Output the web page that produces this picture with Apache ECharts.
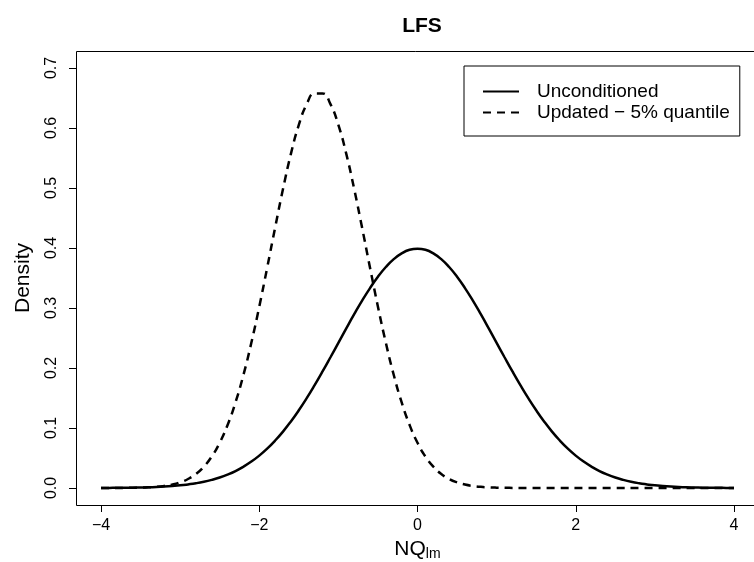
<!DOCTYPE html>
<html>
<head>
<meta charset="utf-8">
<script src="https://cdn.jsdelivr.net/npm/echarts@6/dist/echarts.min.js"></script>
<style>
  html, body { margin: 0; padding: 0; background: #fff; }
  #chart { width: 754px; height: 562px; }
</style>
</head>
<body>
<div id="chart"></div>
<script>
// grid of x values, -4 .. 4 by 0.1
const xs = [
  -4.0, -3.9, -3.8, -3.7, -3.6, -3.5, -3.4, -3.3, -3.2, -3.1,
  -3.0, -2.9, -2.8, -2.7, -2.6, -2.5, -2.4, -2.3, -2.2, -2.1,
  -2.0, -1.9, -1.8, -1.7, -1.6, -1.5, -1.4, -1.3, -1.2, -1.1,
  -1.0, -0.9, -0.8, -0.7, -0.6, -0.5, -0.4, -0.3, -0.2, -0.1,
  0.0, 0.1, 0.2, 0.3, 0.4, 0.5, 0.6, 0.7, 0.8, 0.9,
  1.0, 1.1, 1.2, 1.3, 1.4, 1.5, 1.6, 1.7, 1.8, 1.9,
  2.0, 2.1, 2.2, 2.3, 2.4, 2.5, 2.6, 2.7, 2.8, 2.9,
  3.0, 3.1, 3.2, 3.3, 3.4, 3.5, 3.6, 3.7, 3.8, 3.9,
  4.0
]

const unconditioned = [
  0.0001, 0.0002, 0.0003, 0.0004, 0.0006, 0.0009, 0.0012, 0.0017, 0.0024, 0.0033,
  0.0044, 0.0060, 0.0079, 0.0104, 0.0136, 0.0175, 0.0224, 0.0283, 0.0355, 0.0440,
  0.0540, 0.0656, 0.0790, 0.0940, 0.1109, 0.1295, 0.1497, 0.1714, 0.1942, 0.2179,
  0.2420, 0.2661, 0.2897, 0.3123, 0.3332, 0.3521, 0.3683, 0.3814, 0.3910, 0.3970,
  0.3989, 0.3970, 0.3910, 0.3814, 0.3683, 0.3521, 0.3332, 0.3123, 0.2897, 0.2661,
  0.2420, 0.2179, 0.1942, 0.1714, 0.1497, 0.1295, 0.1109, 0.0940, 0.0790, 0.0656,
  0.0540, 0.0440, 0.0355, 0.0283, 0.0224, 0.0175, 0.0136, 0.0104, 0.0079, 0.0060,
  0.0044, 0.0033, 0.0024, 0.0017, 0.0012, 0.0009, 0.0006, 0.0004, 0.0003, 0.0002,
  0.0001
]

const updated = [
  0.0000, 0.0000, 0.0001, 0.0002, 0.0003, 0.0006, 0.0011, 0.0019, 0.0034, 0.0057,
  0.0094, 0.0150, 0.0234, 0.0356, 0.0525, 0.0754, 0.1051, 0.1427, 0.1884, 0.2420,
  0.3022, 0.3670, 0.4336, 0.4982, 0.5568, 0.6051, 0.6397, 0.6577, 0.6577, 0.6397,
  0.6051, 0.5568, 0.4982, 0.4336, 0.3670, 0.3022, 0.2420, 0.1884, 0.1427, 0.1051,
  0.0754, 0.0525, 0.0356, 0.0234, 0.0150, 0.0094, 0.0057, 0.0034, 0.0019, 0.0011,
  0.0006, 0.0003, 0.0002, 0.0001, 0.0000, 0.0000, 0.0000, 0.0000, 0.0000, 0.0000,
  0.0000, 0.0000, 0.0000, 0.0000, 0.0000, 0.0000, 0.0000, 0.0000, 0.0000, 0.0000,
  0.0000, 0.0000, 0.0000, 0.0000, 0.0000, 0.0000, 0.0000, 0.0000, 0.0000, 0.0000,
  0.0000
]

const seriesNames = ['Unconditioned', 'Updated \u2212 5% quantile']
const font = 'Liberation Sans, Arial, sans-serif'

const pairs = (ys) => xs.map((x, i) => [x, ys[i]])

const chart = echarts.init(document.getElementById('chart'))

const option = {
  backgroundColor: '#fff',
  animation: false,
  title: {
    text: 'LFS',
    left: 417,
    top: 11,
    textAlign: 'center',
    textStyle: { fontFamily: font, fontSize: 21, fontWeight: 'bold', color: '#000' }
  },
  legend: {
    orient: 'vertical',
    left: 464,
    top: 66,
    padding: [16, 10, 14, 18],
    itemWidth: 36,
    itemHeight: 14,
    itemGap: 2,
    borderColor: '#000',
    borderWidth: 1,
    borderRadius: 0,
    data: seriesNames,
    itemStyle: { color: 'transparent', borderWidth: 0, opacity: 0 },
    textStyle: { fontFamily: font, fontSize: 19, color: '#000', padding: [0, 0, 0, 13] }
  },
  grid: {
    left: 101,
    right: 20,
    top: 68,
    bottom: 74,
    outerBoundsMode: 'none'
  },
  xAxis: {
    type: 'value',
    min: -4,
    max: 4,
    interval: 2,
    offset: 17,
    name: '{a|NQ}{b|lm}',
    nameLocation: 'middle',
    nameGap: 33,
    nameTextStyle: {
      rich: {
        a: { fontFamily: font, fontSize: 21, color: '#000' },
        b: { fontFamily: font, fontSize: 14, color: '#000', padding: [9, 0, 0, 0] }
      }
    },
    axisLine: { show: true, onZero: false, lineStyle: { color: '#000', width: 1 } },
    axisTick: { show: true, length: 7, lineStyle: { color: '#000' } },
    axisLabel: {
      margin: 13,
      fontFamily: font,
      fontSize: 16,
      color: '#000',
      formatter: (v) => (v < 0 ? '\u2212' + Math.abs(v) : String(v))
    },
    splitLine: { show: false }
  },
  yAxis: {
    type: 'value',
    min: 0,
    max: 0.7,
    interval: 0.1,
    offset: 25,
    name: 'Density',
    nameLocation: 'middle',
    nameRotate: 90,
    nameGap: 42,
    nameTextStyle: { fontFamily: font, fontSize: 21, color: '#000' },
    axisLine: { show: true, onZero: false, lineStyle: { color: '#000', width: 1 } },
    axisTick: { show: true, length: 7, lineStyle: { color: '#000' } },
    axisLabel: {
      rotate: 90,
      margin: 16,
      fontFamily: font,
      fontSize: 16,
      color: '#000',
      formatter: (v) => v.toFixed(1)
    },
    splitLine: { show: false }
  },
  graphic: [
    {
      type: 'rect',
      shape: { x: 76.5, y: 51.5, width: 690, height: 454 },
      style: { fill: 'none', stroke: '#000', lineWidth: 1 },
      silent: true
    }
  ],
  series: [
    {
      name: seriesNames[0],
      type: 'line',
      data: pairs(unconditioned),
      symbol: 'none',
      smooth: true,
      clip: false,
      lineStyle: { color: '#000', width: 2.5, type: 'solid' },
      itemStyle: { color: '#000' }
    },
    {
      name: seriesNames[1],
      type: 'line',
      data: pairs(updated),
      symbol: 'none',
      smooth: true,
      clip: false,
      lineStyle: { color: '#000', width: 2.5, type: [8, 6] },
      itemStyle: { color: '#000' }
    }
  ]
}

chart.setOption(option)
</script>
</body>
</html>
